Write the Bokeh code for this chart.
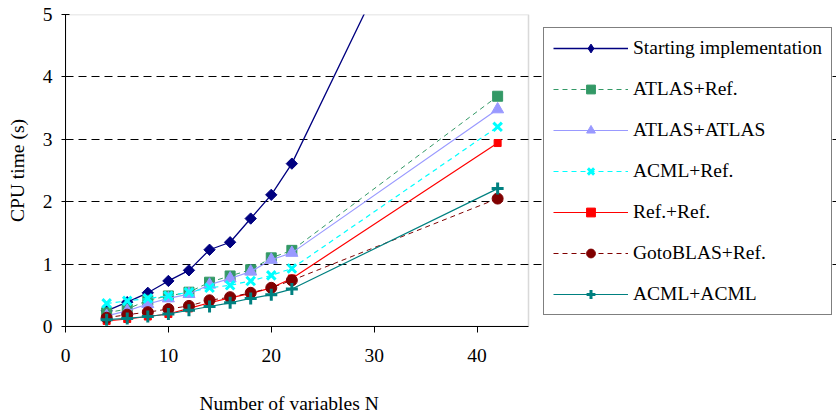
from bokeh.plotting import figure
from bokeh.models import Legend, LegendItem, FixedTicker, Range1d, BoxAnnotation, Title
from bokeh.embed import file_html
from bokeh.resources import INLINE

# ---- data ----
N = [4, 6, 8, 10, 12, 14, 16, 18, 20, 22, 42]
starting = [0.25, 0.39, 0.54, 0.73, 0.90, 1.23, 1.35, 1.73, 2.11, 2.61, 9.43]
atlas_ref = [0.22, 0.28, 0.42, 0.49, 0.55, 0.71, 0.81, 0.91, 1.10, 1.22, 3.69]
atlas_atlas = [0.17, 0.25, 0.36, 0.45, 0.52, 0.67, 0.77, 0.88, 1.07, 1.18, 3.48]
acml_ref = [0.37, 0.41, 0.45, 0.49, 0.55, 0.62, 0.66, 0.73, 0.82, 0.93, 3.20]
ref_ref = [0.09, 0.12, 0.16, 0.20, 0.29, 0.38, 0.46, 0.53, 0.62, 0.77, 2.94]
goto_ref = [0.14, 0.19, 0.23, 0.28, 0.33, 0.42, 0.47, 0.54, 0.62, 0.74, 2.05]
acml_acml = [0.11, 0.13, 0.16, 0.20, 0.26, 0.32, 0.38, 0.45, 0.51, 0.60, 2.21]

x_ticks = [0, 10, 20, 30, 40]
y_ticks = [0, 1, 2, 3, 4, 5]
X_MAX, Y_MAX = 45, 5

FONT = "Liberation Serif"
FS = "19.5px"

# plot area spans 65..528 px for 0..45; the frame is widened to hold the legend
px_per_unit = (528 - 65) / X_MAX
x_view_max = (836 - 65) / px_per_unit

p = figure(width=836, height=414, output_backend="svg", toolbar_location=None,
           x_range=Range1d(0, x_view_max), y_range=Range1d(0, Y_MAX),
           min_border_left=65, min_border_right=0, min_border_top=14, min_border_bottom=87)
p.background_fill_color = "white"
p.border_fill_color = "white"
p.outline_line_color = None

# plot-area border (grey)
p.add_layout(BoxAnnotation(left=0, right=X_MAX, bottom=0, top=Y_MAX, fill_color=None,
                           line_color="#808080", line_width=1.5, level="underlay"))

# grid
p.xgrid.grid_line_color = None
p.ygrid.grid_line_color = "black"
p.ygrid.grid_line_dash = "8 5"
p.ygrid.grid_line_width = 1
p.ygrid.ticker = FixedTicker(ticks=y_ticks)
p.ygrid.bounds = (0, X_MAX)

# axes
p.xaxis.ticker = FixedTicker(ticks=x_ticks)
p.xaxis.bounds = (0, X_MAX)
p.yaxis.ticker = FixedTicker(ticks=y_ticks)
for ax in (p.xaxis[0], p.yaxis[0]):
    ax.axis_line_color = "black"
    ax.major_tick_line_color = "black"
    ax.minor_tick_line_color = None
    ax.major_label_text_font = FONT
    ax.major_label_text_font_size = FS
    ax.major_label_text_color = "black"
    ax.axis_label_text_font = FONT
    ax.axis_label_text_font_size = FS
    ax.axis_label_text_font_style = "normal"
    ax.axis_label_text_color = "black"
p.xaxis.major_tick_out = 6
p.xaxis.major_tick_in = 0
p.xaxis.major_label_standoff = 16
# blank spacer label pushes the x title down to its place
p.xaxis.axis_label = " "
p.xaxis.axis_label_text_font_size = "1px"
p.xaxis.axis_label_standoff = 21
p.yaxis.major_tick_out = 4
p.yaxis.major_tick_in = 4
p.yaxis.major_label_standoff = 9
p.yaxis.axis_label = "CPU time (s)"
p.yaxis.axis_label_standoff = 12

xtitle = Title(text="Number of variables N", align="left", offset=134, standoff=2,
               vertical_align="bottom",
               text_font=FONT, text_font_size=FS, text_font_style="normal", text_color="black")
p.add_layout(xtitle, "below")

series = [
    ("Starting implementation", starting, "#000080", "solid", "square", 8, dict(angle=0.785398), 1.3),
    ("ATLAS+Ref.", atlas_ref, "#339966", "5 4", "square", 10, {}, 1.0),
    ("ATLAS+ATLAS", atlas_atlas, "#9999FF", "solid", "triangle", 12, {}, 1.2),
    ("ACML+Ref.", acml_ref, "#00FFFF", "5 4", "x", 12, {}, 1.2),
    ("Ref.+Ref.", ref_ref, "#FF0000", "solid", "square", 7, {}, 1.2),
    ("GotoBLAS+Ref.", goto_ref, "#800000", "5 4", "circle", 11, {}, 1.0),
    ("ACML+ACML", acml_acml, "#008080", "solid", "cross", 12, {}, 1.2),
]

items = []
for i, (name, ys, color, dash, marker, size, extra, lw) in enumerate(series):
    r1 = p.line(N, ys, line_color=color, line_width=lw, line_dash=dash)
    if marker in ("x", "cross"):
        r2 = p.scatter(N, ys, marker=marker, size=size, line_color=color, line_width=3)
    else:
        r2 = p.scatter(N, ys, marker=marker, size=size, fill_color=color, line_color=color, **extra)
    if i == 0:
        # legend-only diamond (legend glyphs ignore marker angle); hidden in the plot
        r2 = p.scatter(N, ys, marker="diamond", size=14, fill_color=color, line_color=color,
                       visible=False)
    items.append(LegendItem(label=name, renderers=[r1, r2]))

legend = Legend(items=items, location=(478, 11), margin=0, padding=9,
                glyph_width=75, glyph_height=22, label_height=22, spacing=19,
                label_standoff=5, label_text_font=FONT, label_text_font_size=FS,
                label_text_color="black", border_line_color="black", border_line_width=1,
                background_fill_color="white", background_fill_alpha=1.0,
                click_policy="none", inactive_fill_alpha=0.0)
p.add_layout(legend, "center")

open("out.html", "w").write(file_html(p, INLINE))
